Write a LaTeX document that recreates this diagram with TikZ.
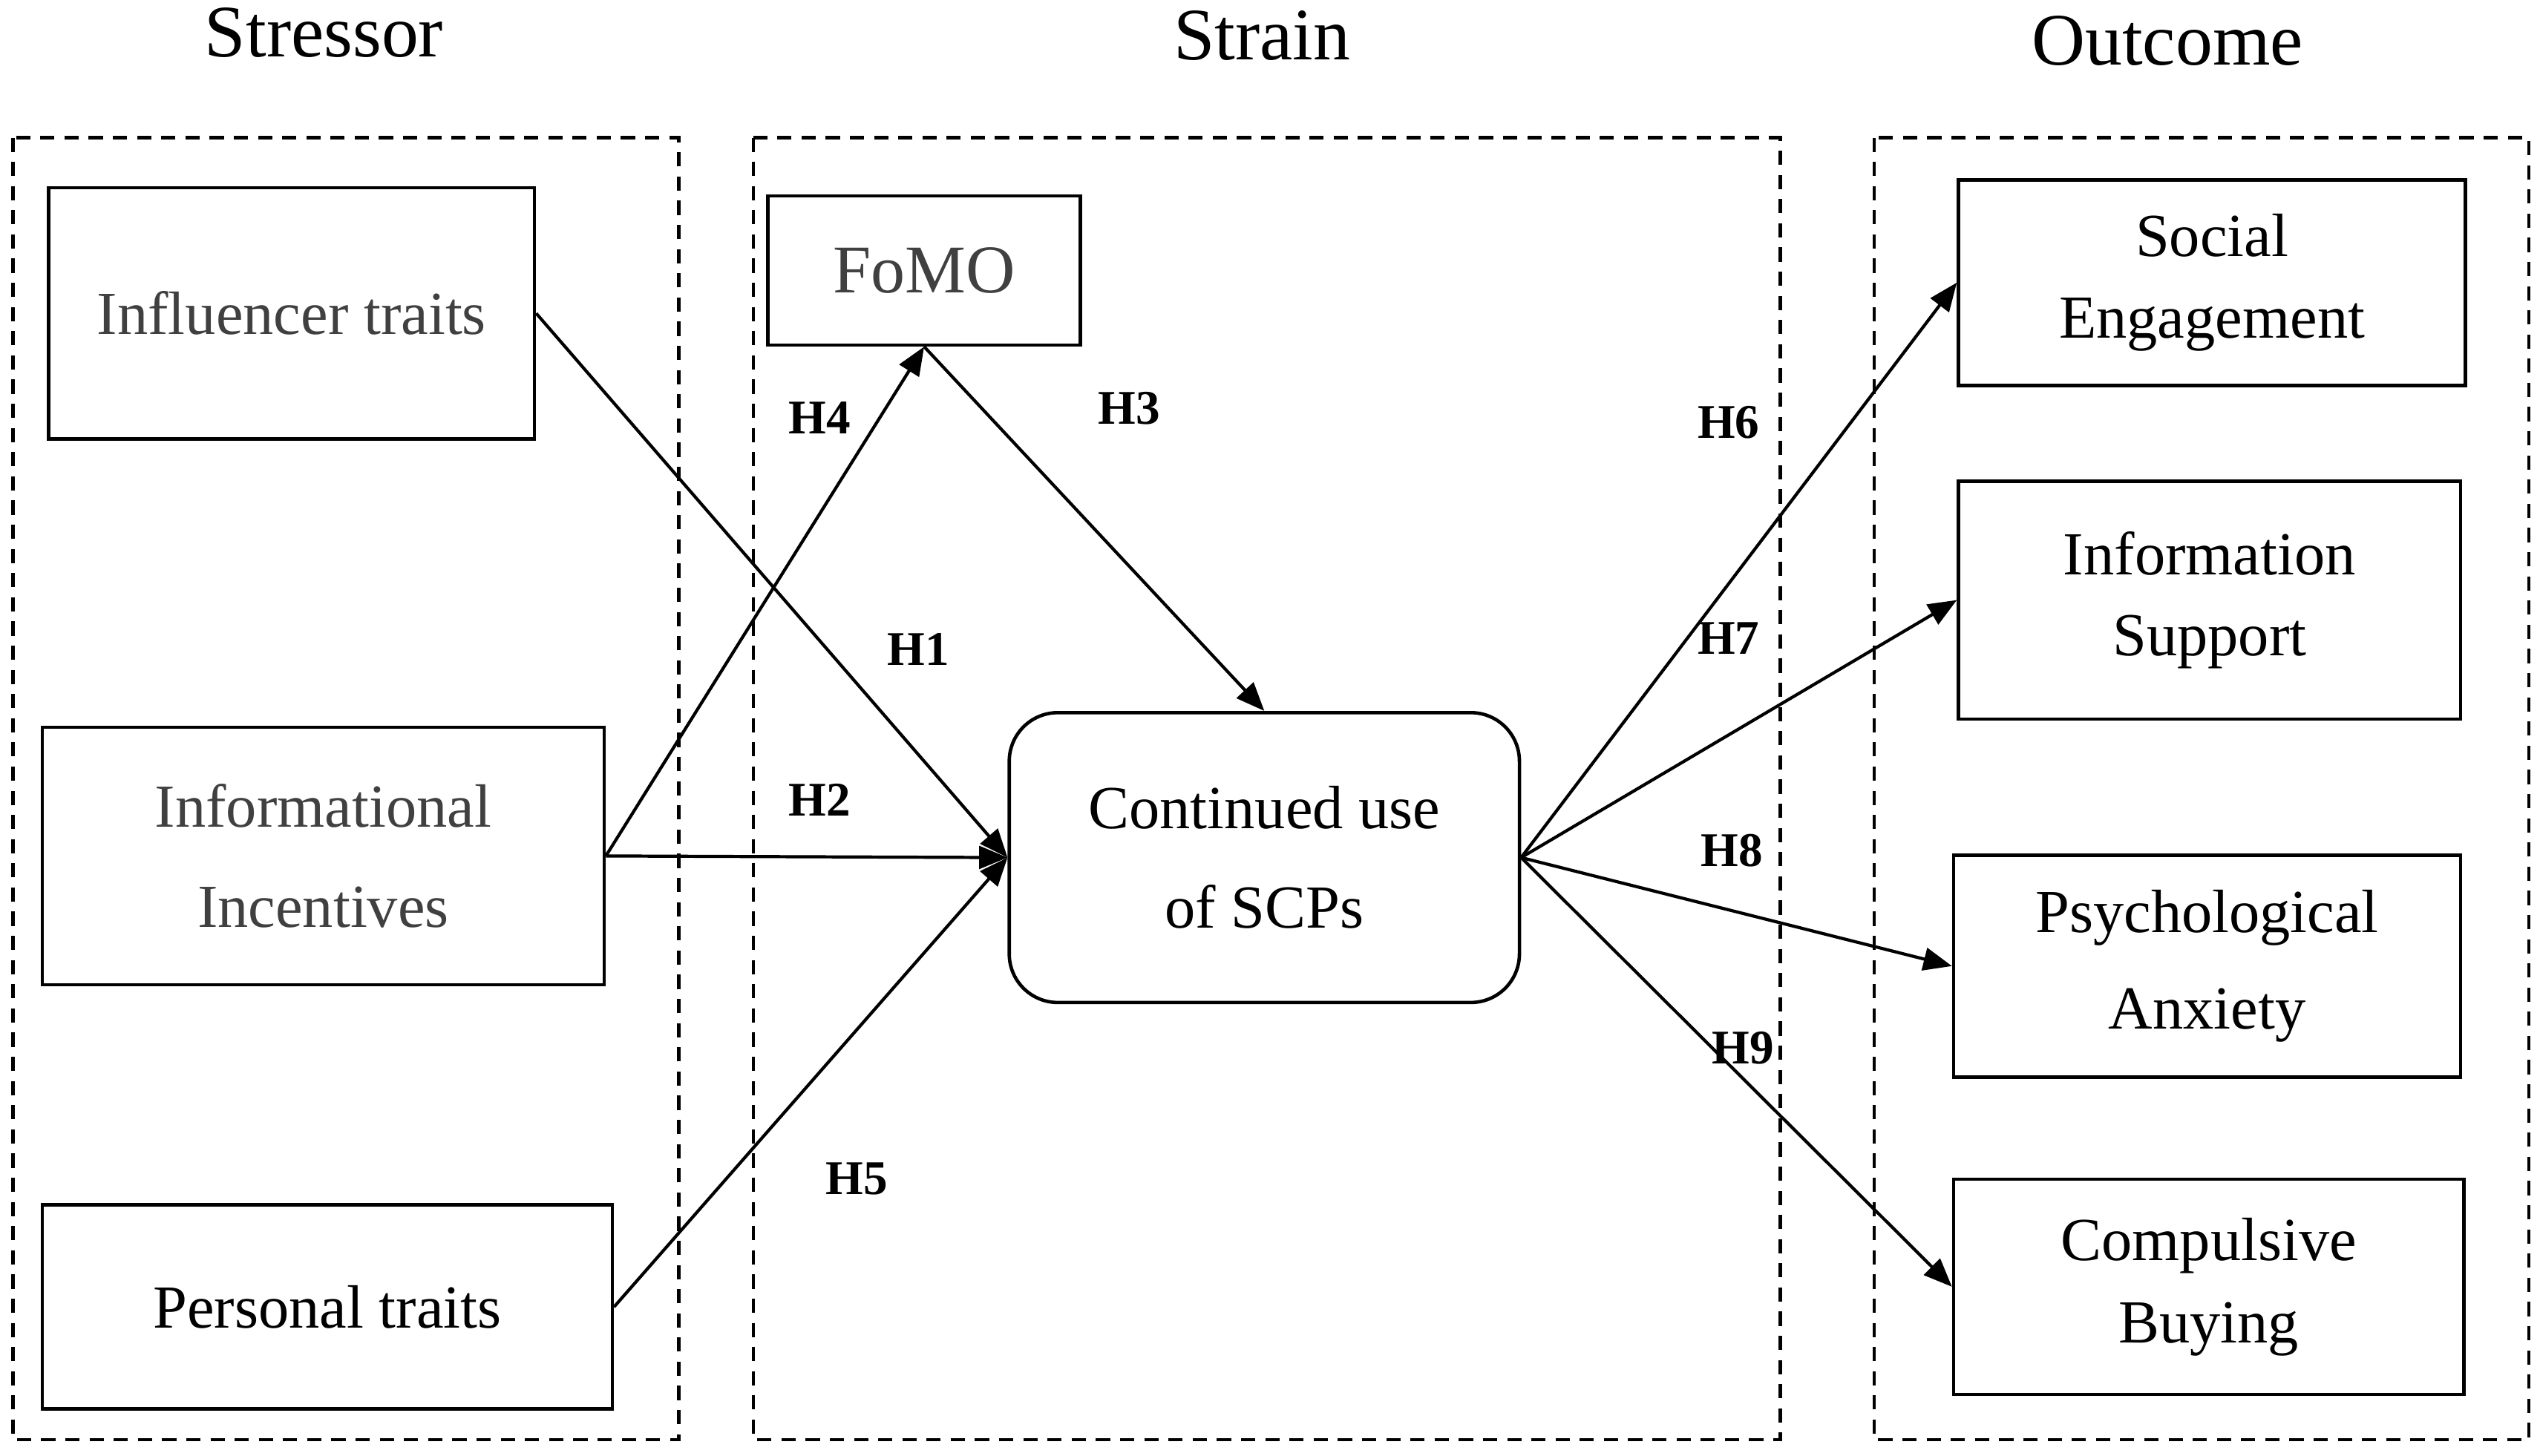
\documentclass[tikz,border=0pt]{standalone}
\usepackage{fontspec}
\setmainfont{Liberation Serif}
\usetikzlibrary{arrows.meta}
\begin{document}
\begin{tikzpicture}[x=0.02cm,y=-0.02cm,
  box/.style={draw,line width=1.2pt,inner sep=0pt,align=center,font=\fontsize{21.5}{35}\selectfont},
  grp/.style={draw,dash pattern=on 5pt off 3.5pt,line width=1.1pt},
  title/.style={font=\fontsize{26}{30}\selectfont},
  hl/.style={font=\bfseries\fontsize{17}{20}\selectfont},
  arr/.style={line width=1.1pt,-{Triangle[length=10pt,width=8pt]}}]
\useasboundingbox (0,0) rectangle (1568,899);
\draw[grp] (8,85) rectangle (419,889);
\draw[grp] (465,85) rectangle (1099,889);
\draw[grp] (1157,85) rectangle (1561,889);
\node[title] (t1) at (200,20) {Stressor};
\node[title] (t2) at (779,22) {Strain};
\node[title] (t3) at (1338,25) {Outcome};
\node[box,text=black!75,minimum width=6cm,minimum height=3.1cm] (inf) at (180,193.5) {Influencer traits};
\node[box,text=black!75,minimum width=6.94cm,minimum height=3.18cm] (ii) at (199.5,528.5) {Informational\\Incentives};
\node[box,minimum width=7.04cm,minimum height=2.52cm] (pt) at (202,807) {Personal traits};
\node[box,text=black!75,minimum width=3.86cm,minimum height=1.84cm,font=\fontsize{24}{28}\selectfont] (fomo) at (570.5,167) {FoMO};
\node[box,rounded corners=0.6cm,minimum width=6.3cm,minimum height=3.58cm] (cu) at (780.5,529.5) {Continued use\\of SCPs};
\node[box,minimum width=6.26cm,minimum height=2.54cm,font=\fontsize{21.5}{28.5}\selectfont] (se) at (1365.5,174.5) {Social\\Engagement};
\node[box,minimum width=6.2cm,minimum height=2.94cm,font=\fontsize{21.5}{28.5}\selectfont] (is) at (1364,370.5) {Information\\Support};
\node[box,minimum width=6.26cm,minimum height=2.74cm,font=\fontsize{21.5}{34}\selectfont] (pa) at (1362.5,596.5) {Psychological\\Anxiety};
\node[box,minimum width=6.3cm,minimum height=2.66cm,font=\fontsize{21.5}{29}\selectfont] (cb) at (1363.5,794.5) {Compulsive\\Buying};
\draw[arr] (inf.east) -- (cu.west);
\draw[arr] (ii.east) -- (cu.west);
\draw[arr] (ii.east) -- (fomo.south);
\draw[arr] (fomo.south) -- (cu.north);
\draw[arr] (pt.east) -- (cu.west);
\draw[arr] (cu.east) -- (se.west);
\draw[arr] (cu.east) -- (is.west);
\draw[arr] (cu.east) -- (pa.west);
\draw[arr] (cu.east) -- (cb.west);
\node[hl] (h4) at (506,258) {H4};
\node[hl] (h3) at (697,252) {H3};
\node[hl] (h1) at (567,401) {H1};
\node[hl] (h2) at (506,494) {H2};
\node[hl] (h5) at (529,728) {H5};
\node[hl] (h6) at (1067,261) {H6};
\node[hl] (h7) at (1067,394) {H7};
\node[hl] (h8) at (1069,525) {H8};
\node[hl] (h9) at (1076,647) {H9};
\end{tikzpicture}
\end{document}
